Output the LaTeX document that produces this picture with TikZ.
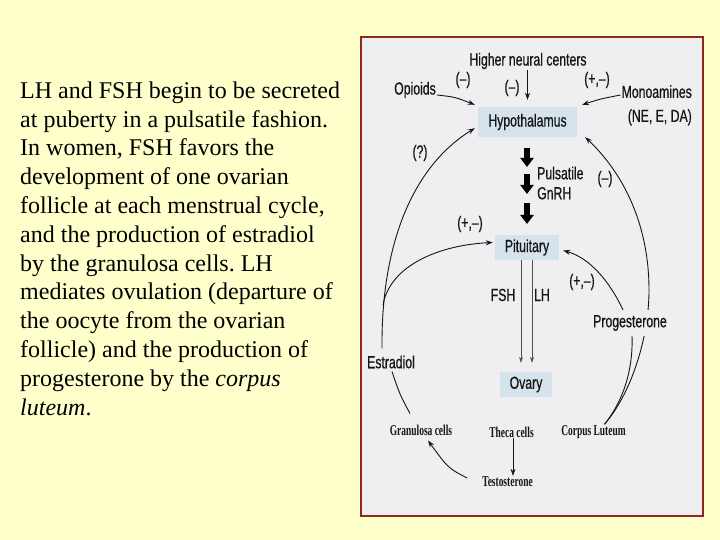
\documentclass[tikz,border=0pt]{standalone}
\usepackage{fontspec}
\setmainfont{Liberation Serif}
\newfontfamily\dsans[FakeStretch=0.70,FakeBold=0.6]{Liberation Sans}
\newfontfamily\dserif[FakeStretch=0.63]{Liberation Serif}
\usetikzlibrary{arrows.meta}
\pgfdeclarelayer{back}
\pgfdeclarelayer{arcs}
\pgfsetlayers{back,arcs,main}
\definecolor{bgyellow}{HTML}{FFFFCC}
\definecolor{panelfill}{HTML}{EFEFF1}
\definecolor{panelborder}{HTML}{8B2A1A}
\definecolor{boxblue}{HTML}{D5E3EC}
\definecolor{ink}{HTML}{161616}
\frenchspacing
\begin{document}
\begin{tikzpicture}[x=1pt,y=-1pt,
  lbl/.style={font=\dsans\fontsize{17.5}{20}\selectfont, text=ink, inner sep=1pt},
  cell/.style={font=\dserif\bfseries\fontsize{15}{17}\selectfont, text=ink, inner sep=1pt},
  organ/.style={fill=boxblue, font=\dsans\fontsize{17.5}{20}\selectfont, text=ink, inner sep=0pt},
  conn/.style={draw=ink, line width=0.9pt, -{Stealth[length=7pt,width=5pt]}},
  plain/.style={draw=ink, line width=0.9pt},
  hormone/.style={draw=ink!75, line width=0.7pt, -{Stealth[length=6pt,width=4pt]}},
  thickarrow/.style={draw=black, line width=6pt, -{Triangle[length=9pt,width=13pt]}}
]
\useasboundingbox (0,0) rectangle (720,540);
\begin{pgfonlayer}{back}
  \fill[bgyellow] (0,0) rectangle (720,540);
  \draw[panelborder, line width=1.5pt, fill=panelfill] (361,37) rectangle (703,516);
\end{pgfonlayer}

% left text
\node[anchor=north west, inner sep=0pt, align=left, font=\fontsize{24}{28.8}\selectfont] (txt) at (20,78)
 {\strut LH and FSH begin to be secreted\\
  at puberty in a pulsatile fashion.\\
  In women, FSH favors the\\
  development of one ovarian\\
  follicle at each menstrual cycle,\\
  and the production of estradiol\\
  by the granulosa cells. LH\\
  mediates ovulation (departure of\\
  the oocyte from the ovarian\\
  follicle) and the production of\\
  progesterone by the \textit{corpus}\\
  \textit{luteum}.};

% organ boxes
\node[organ, minimum width=99pt, minimum height=30pt] (hyp) at (527.5,122) {Hypothalamus};
\node[organ, minimum width=64pt, minimum height=25pt] (pit) at (527,247.5) {Pituitary};
\node[organ, minimum width=52pt, minimum height=25pt] (ova) at (526,384.5) {Ovary};

% labels
\node[lbl] (hnc) at (528,61) {Higher neural centers};
\node[lbl] (opi) at (415,90) {Opioids};
\node[lbl] (s1) at (463,80) {(–)};
\node[lbl] (s2) at (512,88) {(–)};
\node[lbl] (s3) at (597,80) {(+,–)};
\node[lbl, align=right, anchor=north east, font=\dsans\fontsize{17.5}{24}\selectfont] (mono) at (693,84) {Monoamines\\(NE, E, DA)};
\node[lbl, align=left, anchor=west, font=\dsans\fontsize{17.5}{20}\selectfont] (gnrh) at (536,183) {Pulsatile\\GnRH};
\node[lbl] (s4) at (605,179) {(–)};
\node[lbl] (s5) at (420,153) {(?)};
\node[lbl] (s6) at (470,224) {(+,–)};
\node[lbl] (fsh) at (503,295) {FSH};
\node[lbl] (lh) at (542,295) {LH};
\node[lbl] (s7) at (582,282) {(+,–)};
\node[lbl, fill=panelfill, inner xsep=1pt, inner ysep=5pt] (prog) at (630,323) {Progesterone};
\node[lbl] (estr) at (391,362) {Estradiol};
\node[cell] (gran) at (421,430) {Granulosa cells};
\node[cell] (theca) at (511.5,432) {Theca cells};
\node[cell] (corp) at (593.5,432) {Corpus Luteum};
\node[cell] (testo) at (507.5,482) {Testosterone};

% GnRH thick arrows
\coordinate (g1a) at (527,148); \coordinate (g1b) at (527,167);
\coordinate (g2a) at (527,174); \coordinate (g2b) at (527,194);
\coordinate (g3a) at (527,203); \coordinate (g3b) at (527,224);
\draw[thickarrow] (g1a) -- (g1b);
\draw[thickarrow] (g2a) -- (g2b);
\draw[thickarrow] (g3a) -- (g3b);

% top inputs
\draw[conn] ([yshift=-5pt]opi.east) .. controls (455,97) .. ([xshift=-3pt,yshift=2pt]hyp.north west);
\draw[conn] (hnc.south -| hyp.north) -- ([yshift=7pt]hyp.north);
\draw[conn] ([yshift=-11pt]mono.north west) .. controls (600,99) .. ([xshift=5pt,yshift=2pt]hyp.north east);

% pituitary to ovary
\draw[hormone, shorten >=3pt] ([xshift=-6pt]pit.south) -- ([xshift=-5pt,yshift=6pt]ova.north);
\draw[hormone, shorten >=3pt] ([xshift=5pt]pit.south) -- ([xshift=6pt,yshift=6pt]ova.north);

% feedback arcs
\begin{pgfonlayer}{arcs}
\coordinate (ebranch) at (383,305);
\draw[conn] ([xshift=-9pt,yshift=6pt]estr.north) .. controls (381,240) and (415,165) .. ([xshift=-3pt,yshift=9pt]hyp.south west);
\draw[conn] (ebranch) .. controls (390,265) and (440,245) .. ([xshift=-2pt,yshift=5pt]pit.west);
\draw[plain] ([xshift=1pt,yshift=-2pt]estr.south) .. controls (400,395) .. ([xshift=-11pt,yshift=10pt]gran.north);
\coordinate (rmid) at (649,290);
\draw[conn] ([xshift=11pt]corp.north) .. controls (630,395) and (649,340) .. (rmid)
  .. controls (649,220) and (620,170) .. ([xshift=8pt]hyp.south east);
\draw[plain] ([xshift=11pt]corp.north) .. controls (628,395) and (633,360) .. ([xshift=2pt]prog.south);
\draw[conn] ([xshift=-7pt]prog.north) .. controls (610,282) and (590,258) .. ([xshift=4pt,yshift=-3pt]pit.east);
\end{pgfonlayer}

% ovary cells
\draw[conn, line width=0.7pt] ([xshift=1.5pt]theca.south) -- ([xshift=5.5pt]testo.north);
\draw[conn] ([xshift=-14pt,yshift=4pt]testo.west) .. controls (448,468) .. ([xshift=7pt,yshift=-4pt]gran.south);
\end{tikzpicture}
\end{document}
